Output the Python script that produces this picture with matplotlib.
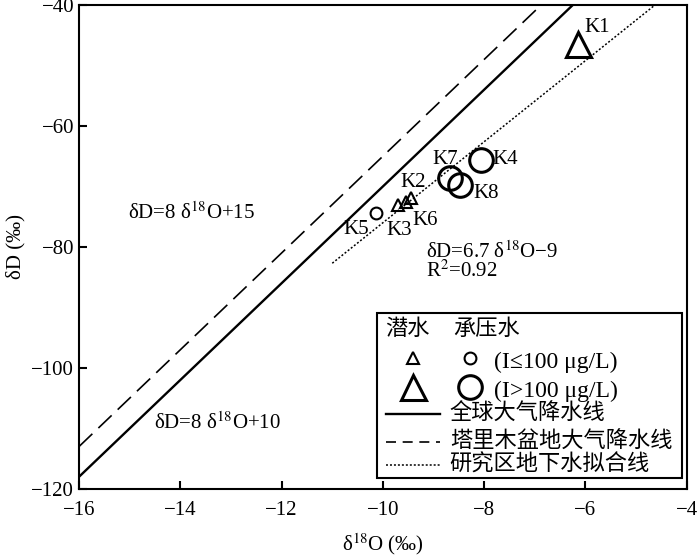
import numpy as np
import matplotlib
matplotlib.use('Agg')
import matplotlib.pyplot as plt
from matplotlib.lines import Line2D
from matplotlib.patches import Rectangle

plt.rcParams['font.family'] = ['Liberation Serif', 'Noto Sans CJK SC']
plt.rcParams['mathtext.fontset'] = 'stix'

# sample points: name, d18O, dD
names = ['K1', 'K2', 'K3', 'K4', 'K5', 'K6', 'K7', 'K8']
d18o = [-6.15, -9.45, -9.70, -8.07, -10.14, -9.55, -8.68, -8.48]
dd = [-46.5, -71.9, -73.1, -65.6, -74.4, -72.6, -68.6, -69.75]
kind = ['tri_big', 'tri', 'tri', 'circ_big', 'circ', 'tri', 'circ_big', 'circ_big']
# label offsets in points
offs = {'K1': (14, 12), 'K2': (2, 11), 'K3': (1, -18), 'K4': (18, 0),
        'K5': (-14, -12), 'K6': (14, -13), 'K7': (-3, 13), 'K8': (19, -6)}

# lines: slope, intercept
gmwl = (8, 10)
tmwl = (8, 15)
fit = (6.7, -9)
fit_x = [-11, -4.63]

fig = plt.figure(figsize=(7, 5.58), dpi=100)
ax = fig.add_axes([0.113, 0.124, 0.868, 0.867])

xx = np.array([-16, -4])
ax.plot(xx, gmwl[0] * xx + gmwl[1], color='black', lw=1.7)
ax.plot(xx, tmwl[0] * xx + tmwl[1], color='black', lw=1.2, linestyle=(0, (11, 5)))
fx = np.array(fit_x)
ax.plot(fx, fit[0] * fx + fit[1], color='black', lw=1.1, linestyle=(0, (1.3, 1.3)))

style = {'tri': dict(marker='^', ms=9, mew=1.5),
         'tri_big': dict(marker='^', ms=18, mew=2.2),
         'circ': dict(marker='o', ms=8.5, mew=1.5),
         'circ_big': dict(marker='o', ms=17, mew=2.2)}
for n, x, y, k in zip(names, d18o, dd, kind):
    ax.plot(x, y, linestyle='none', mfc='none', mec='black', **style[k])
    ax.annotate(n, (x, y), xytext=offs[n], textcoords='offset points',
                ha='center', va='center', fontsize=15)

ax.text(-15.03, -74.4, r'δD=8 δ$^{18}$O+15', fontsize=15, va='center')
ax.text(-14.52, -109.1, r'δD=8 δ$^{18}$O+10', fontsize=15, va='center')
ax.text(-9.15, -80.8, r'δD=6.7 δ$^{18}$O−9', fontsize=15, va='center')
ax.text(-9.15, -84.0, r'R$^{2}$=0.92', fontsize=15, va='center')

ax.set_xlim(-16, -4)
ax.set_ylim(-120, -40)
ax.set_xticks([-16, -14, -12, -10, -8, -6, -4])
ax.set_yticks([-120, -100, -80, -60, -40])
ax.tick_params(direction='in', length=6, width=1.5, labelsize=15)
ax.tick_params(axis='x', pad=9)
for s in ax.spines.values():
    s.set_linewidth(1.5)
ax.set_xlabel(r'δ$^{18}$O (‰)', fontsize=15, labelpad=8)
ax.set_ylabel('δD (‰)', fontsize=15)

# legend box drawn by hand
T = ax.transAxes
ax.add_patch(Rectangle((0.490, 0.023), 0.503, 0.341, transform=T,
                       fill=True, facecolor='white', edgecolor='black', lw=1.5, zorder=5))
ax.text(0.541, 0.329, '潜水', transform=T, ha='center', va='center', fontsize=16, zorder=6)
ax.text(0.671, 0.329, '承压水', transform=T, ha='center', va='center', fontsize=16, zorder=6)
for yy, big, lab in [(0.270, False, '(I≤100 μg/L)'), (0.210, True, '(I>100 μg/L)')]:
    t = style['tri_big' if big else 'tri']
    c = style['circ_big' if big else 'circ']
    ax.add_line(Line2D([0.549], [yy], transform=T, mfc='none', mec='black', zorder=6, **t))
    ax.add_line(Line2D([0.643], [yy], transform=T, mfc='none', mec='black', zorder=6, **c))
    ax.text(0.683, yy - 0.008, lab, transform=T, va='center', fontsize=17, zorder=6)
leg_lines = [(0.155, dict(lw=1.7), '全球大气降水线'),
             (0.097, dict(lw=1.2, linestyle=(0, (6, 4))), '塔里木盆地大气降水线'),
             (0.050, dict(lw=1.1, linestyle=(0, (1.3, 1.3))), '研究区地下水拟合线')]
for yy, kw, lab in leg_lines:
    ax.add_line(Line2D([0.505, 0.594], [yy, yy], transform=T, color='black', zorder=6, **kw))
    ax.text(0.610, yy, lab, transform=T, va='center', fontsize=16, zorder=6)

fig.savefig('out.png', dpi=100)
